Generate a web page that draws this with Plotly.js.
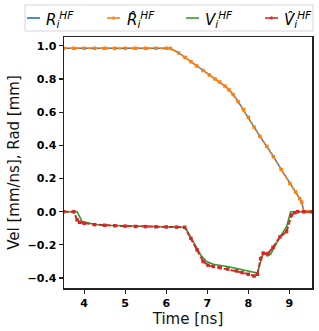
<!DOCTYPE html>
<html><head><meta charset="utf-8">
<script src="https://cdn.plot.ly/plotly-3.0.1.min.js"></script>
<style>html,body{margin:0;padding:0;background:#fff}#c{width:319px;height:331px}</style>
</head><body><div id="c"></div>
<script>
const seriesNames = ["<i>R</i><sub><i>i</i></sub><sup><i>HF</i></sup>", "<i>R̂</i><sub><i>i</i></sub><sup><i>HF</i></sup>", "<i>V</i><sub><i>i</i></sub><sup><i>HF</i></sup>", "<i>V̂</i><sub><i>i</i></sub><sup><i>HF</i></sup>"];
const seriesColors = ['#1f77b4','#ff7f0e','#2ca02c','#d62728'];

const tR = [3.5,3.75,4.0,4.25,4.5,4.75,5.0,5.25,5.5,5.75,6.0,6.1,6.3,6.46,6.6,6.74,6.9,7.05,7.19,7.3,7.43,7.53,7.63,7.75,7.88,8.0,8.14,8.28,8.45,8.61,8.8,9.01,9.15,9.25,9.3,9.35,9.45,9.55];
const rad = [0.985,0.985,0.985,0.985,0.985,0.985,0.985,0.985,0.985,0.985,0.985,0.985,0.958,0.93,0.905,0.88,0.852,0.825,0.80,0.783,0.758,0.735,0.707,0.665,0.616,0.57,0.51,0.455,0.395,0.333,0.255,0.172,0.12,0.08,0.06,0.0,0.0,0.0];
const radHat = [0.985,0.985,0.985,0.985,0.985,0.985,0.985,0.985,0.985,0.985,0.985,0.984,0.957,0.93,0.904,0.879,0.851,0.824,0.80,0.782,0.757,0.734,0.706,0.664,0.615,0.569,0.51,0.454,0.394,0.332,0.254,0.171,0.119,0.079,0.058,0.0,0.0,0.0];

const tV = [3.5,3.83,3.95,4.1,4.27,4.6,5.09,5.5,6.0,6.46,6.66,6.85,6.98,7.15,7.55,7.88,8.22,8.32,8.38,8.46,8.54,8.77,8.93,9.03,9.55];
const vel = [0,0,-0.06,-0.07,-0.077,-0.082,-0.087,-0.09,-0.092,-0.094,-0.18,-0.265,-0.30,-0.317,-0.333,-0.353,-0.37,-0.283,-0.246,-0.267,-0.258,-0.152,-0.09,0,0];

const tVh = [3.5,3.75,3.83,3.89,4.0,4.25,4.5,4.75,5.0,5.25,5.5,5.75,6.0,6.25,6.45,6.6,6.75,6.9,7.02,7.15,7.31,7.5,7.71,7.85,8.0,8.14,8.22,8.3,8.36,8.48,8.6,8.77,8.93,9.05,9.13,9.2,9.35,9.55];
const velHat = [0,0,-0.05,-0.064,-0.07,-0.078,-0.082,-0.085,-0.087,-0.089,-0.09,-0.091,-0.092,-0.093,-0.094,-0.16,-0.23,-0.30,-0.323,-0.33,-0.337,-0.345,-0.357,-0.367,-0.377,-0.388,-0.377,-0.283,-0.25,-0.252,-0.215,-0.152,-0.12,-0.02,-0.006,0,0,0];

const xTicks = [4,5,6,7,8,9];
const yTicks = [-0.4,-0.2,0.0,0.2,0.4,0.6,0.8,1.0];

const traces = [
  {x:tR, y:rad, name:seriesNames[0], mode:'lines', line:{color:seriesColors[0], width:1.4}},
  {x:tR, y:radHat, name:seriesNames[1], mode:'lines+markers', line:{color:seriesColors[1], width:1.6, dash:'4px,2px'}, marker:{size:3.5, symbol:'square', color:seriesColors[1]}},
  {x:tV, y:vel, name:seriesNames[2], mode:'lines', line:{color:seriesColors[2], width:1.6}},
  {x:tVh, y:velHat, name:seriesNames[3], mode:'lines+markers', line:{color:seriesColors[3], width:2, dash:'5px,2px'}, marker:{size:3.5, symbol:'square', color:seriesColors[3]}}
];

// manual legend layout (pixel positions converted to paper coords)
const W = 319, H = 331, M = {l:64, r:7, t:37, b:43};
const pw = W - M.l - M.r, ph = H - M.t - M.b;
const px = v => (v - M.l) / pw;
const py = v => (H - M.b - v) / ph;
const legLineX = [27,107,186,265];
const legTextX = [44,125,203,282];
const legY = 18;
const shapes = [
  {type:'rect', xref:'paper', yref:'paper', x0:px(25), x1:px(313), y0:py(31), y1:py(5), line:{color:'#d6d6d6', width:1}, fillcolor:'rgba(255,255,255,0.8)', layer:'above'}
];
const annotations = [];
for (let i=0;i<4;i++){
  shapes.push({type:'line', xref:'paper', yref:'paper', x0:px(legLineX[i]), x1:px(legLineX[i]+13), y0:py(legY), y1:py(legY), line:{color:seriesColors[i], width:1.6}, layer:'above'});
  if (i===1 || i===3){
    shapes.push({type:'rect', xref:'paper', yref:'paper', x0:px(legLineX[i]+5.5), x1:px(legLineX[i]+7.5), y0:py(legY+1.5), y1:py(legY-1.5), line:{width:0}, fillcolor:seriesColors[i], layer:'above'});
  }
  annotations.push({xref:'paper', yref:'paper', x:px(legTextX[i]), y:py(legY+1), xanchor:'left', yanchor:'middle', showarrow:false, text:seriesNames[i], font:{family:'DejaVu Sans', size:15, color:'#000'}});
}

const fmt = v => v<0 ? '\u2212'+Math.abs(v).toFixed(1) : v.toFixed(1);
const tickFont = {family:'DejaVu Sans', size:11, color:'#000'};
const layout = {
  width:W, height:H,
  margin:M,
  paper_bgcolor:'#fff', plot_bgcolor:'#fff',
  showlegend:false,
  shapes:shapes, annotations:annotations,
  xaxis:{range:[3.51,9.55], tickvals:xTicks, ticktext:xTicks.map(v=>'<b>'+v+'</b>'), showgrid:false, zeroline:false,
    showline:true, mirror:true, linecolor:'#222', linewidth:1.5, ticks:'outside', ticklen:4, tickwidth:1.2, tickcolor:'#222',
    tickfont:tickFont,
    title:{text:'Time [ns]', font:{family:'DejaVu Sans', size:15, color:'#111'}, standoff:4}},
  yaxis:{range:[-0.46,1.053], tickvals:yTicks, ticktext:yTicks.map(v=>'<b>'+fmt(v)+'</b>'), showgrid:false, zeroline:false,
    showline:true, mirror:true, linecolor:'#222', linewidth:1.5, ticks:'outside', ticklen:4, tickwidth:1.2, tickcolor:'#222',
    tickfont:tickFont,
    title:{text:'Vel [mm/ns], Rad [mm]', font:{family:'DejaVu Sans', size:15, color:'#111'}, standoff:4}}
};
Plotly.newPlot('c', traces, layout, {displayModeBar:false, staticPlot:true});
</script></body></html>
